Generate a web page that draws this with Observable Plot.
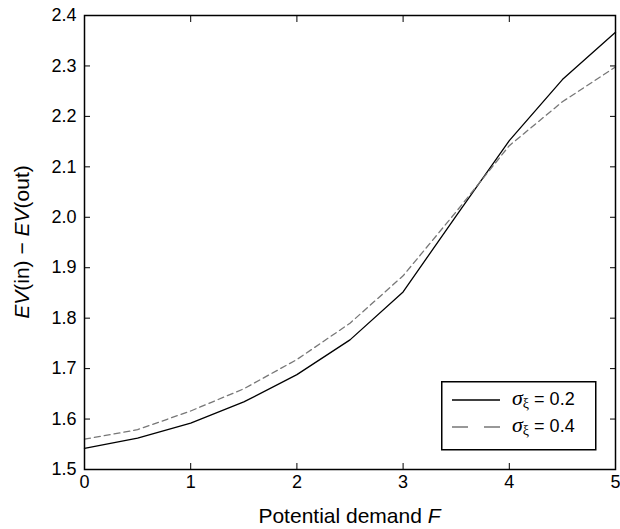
<!DOCTYPE html>
<html><head><meta charset="utf-8">
<script src="https://cdn.jsdelivr.net/npm/d3@7"></script>
<script src="https://cdn.jsdelivr.net/npm/@observablehq/plot@0.6"></script>
<style>
body{margin:0;background:#fff;}
#chart{position:relative;width:620px;height:529px;font-family:"Liberation Sans",Arial,sans-serif;}
#legend{position:absolute;left:441px;top:381px;}
</style></head><body><div id="chart"></div>
<script>
// Data
const F = [0, 0.5, 1, 1.5, 2, 2.5, 3, 3.5, 4, 4.5, 5];
const sigma02 = [1.542, 1.562, 1.592, 1.634, 1.688, 1.757, 1.852, 2.003, 2.152, 2.273, 2.367];
const sigma04 = [1.560, 1.579, 1.616, 1.660, 1.718, 1.790, 1.884, 2.011, 2.142, 2.229, 2.298];
const xTicks = [0, 1, 2, 3, 4, 5];
const yTicks = [1.5, 1.6, 1.7, 1.8, 1.9, 2.0, 2.1, 2.2, 2.3, 2.4];
const seriesNames = ["0.2", "0.4"];

const d02 = F.map((f, i) => ({F: f, v: sigma02[i]}));
const d04 = F.map((f, i) => ({F: f, v: sigma04[i]}));

const fontFamily = '"Liberation Sans", Arial, sans-serif';
const T = 6; // inward tick length

const plot = Plot.plot({
  width: 620, height: 529,
  marginLeft: 84, marginRight: 5, marginTop: 15, marginBottom: 60,
  x: {domain: [0, 5]},
  y: {domain: [1.5, 2.4]},
  style: {fontFamily, fontSize: "18px", color: "#000", background: "white"},
  marks: [
    Plot.line(d02, {x: "F", y: "v", stroke: "#000", strokeWidth: 1.3}),
    Plot.line(d04, {x: "F", y: "v", stroke: "#777", strokeWidth: 1.3, strokeDasharray: "6,4"}),
    Plot.axisX(xTicks, {anchor: "bottom", tickSize: 0, tickPadding: 6, label: null, fontSize: 18}),
    Plot.axisX(xTicks, {anchor: "bottom", tickSize: T, dy: -T, text: null, label: null}),
    Plot.axisX(xTicks, {anchor: "top", tickSize: T, dy: T, text: null, label: null}),
    Plot.axisY(yTicks, {anchor: "left", tickSize: 0, tickPadding: 8, label: null, fontSize: 18, tickFormat: d3.format(".1f")}),
    Plot.axisY(yTicks, {anchor: "left", tickSize: T, dx: T, text: null, label: null}),
    Plot.axisY(yTicks, {anchor: "right", tickSize: T, dx: -T, text: null, label: null}),
    Plot.frame({stroke: "#000", strokeWidth: 1.5})
  ]
});
document.getElementById("chart").appendChild(plot);

const svg = d3.select(plot);
const xl = svg.append("text")
  .attr("x", 349.5).attr("y", 517)
  .attr("text-anchor", "middle").attr("dominant-baseline", "middle")
  .attr("font-size", 21).attr("font-family", fontFamily).attr("fill", "#000");
xl.append("tspan").text("Potential demand ");
xl.append("tspan").attr("font-style", "italic").text("F");

const yl = svg.append("text")
  .attr("transform", "translate(23,242) rotate(-90)")
  .attr("text-anchor", "middle").attr("dominant-baseline", "middle")
  .attr("font-size", 21).attr("font-family", fontFamily).attr("fill", "#000");
yl.append("tspan").attr("font-style", "italic").text("EV");
yl.append("tspan").text("(in) \u2212 ");
yl.append("tspan").attr("font-style", "italic").text("EV");
yl.append("tspan").text("(out)");

// Legend
const leg = d3.select("#chart").append("svg").attr("id", "legend")
  .attr("width", 156).attr("height", 70);
leg.append("rect").attr("x", 0.75).attr("y", 0.75).attr("width", 154).attr("height", 68)
  .attr("fill", "#fff").attr("stroke", "#000").attr("stroke-width", 1.5);
const styles = [{stroke: "#000", dash: null}, {stroke: "#777", dash: "16,16"}];
seriesNames.forEach((name, i) => {
  const y = 19 + i * 27;
  leg.append("line").attr("x1", 11).attr("x2", 59).attr("y1", y).attr("y2", y)
    .attr("stroke", styles[i].stroke).attr("stroke-width", 1.3)
    .attr("stroke-dasharray", styles[i].dash);
  const t = leg.append("text").attr("x", 71).attr("y", y).attr("dominant-baseline", "middle")
    .attr("font-size", 18).attr("font-family", fontFamily).attr("fill", "#000");
  t.append("tspan").attr("font-family", '"Liberation Serif", "DejaVu Serif", serif').attr("font-style", "italic").attr("font-size", 22).text("\u03c3");
  t.append("tspan").attr("font-family", '"Liberation Serif", "DejaVu Serif", serif').attr("font-size", 14).attr("dy", 5).text("\u03be");
  t.append("tspan").attr("dy", -5).text(" = " + name);
});
</script>
</body></html>
